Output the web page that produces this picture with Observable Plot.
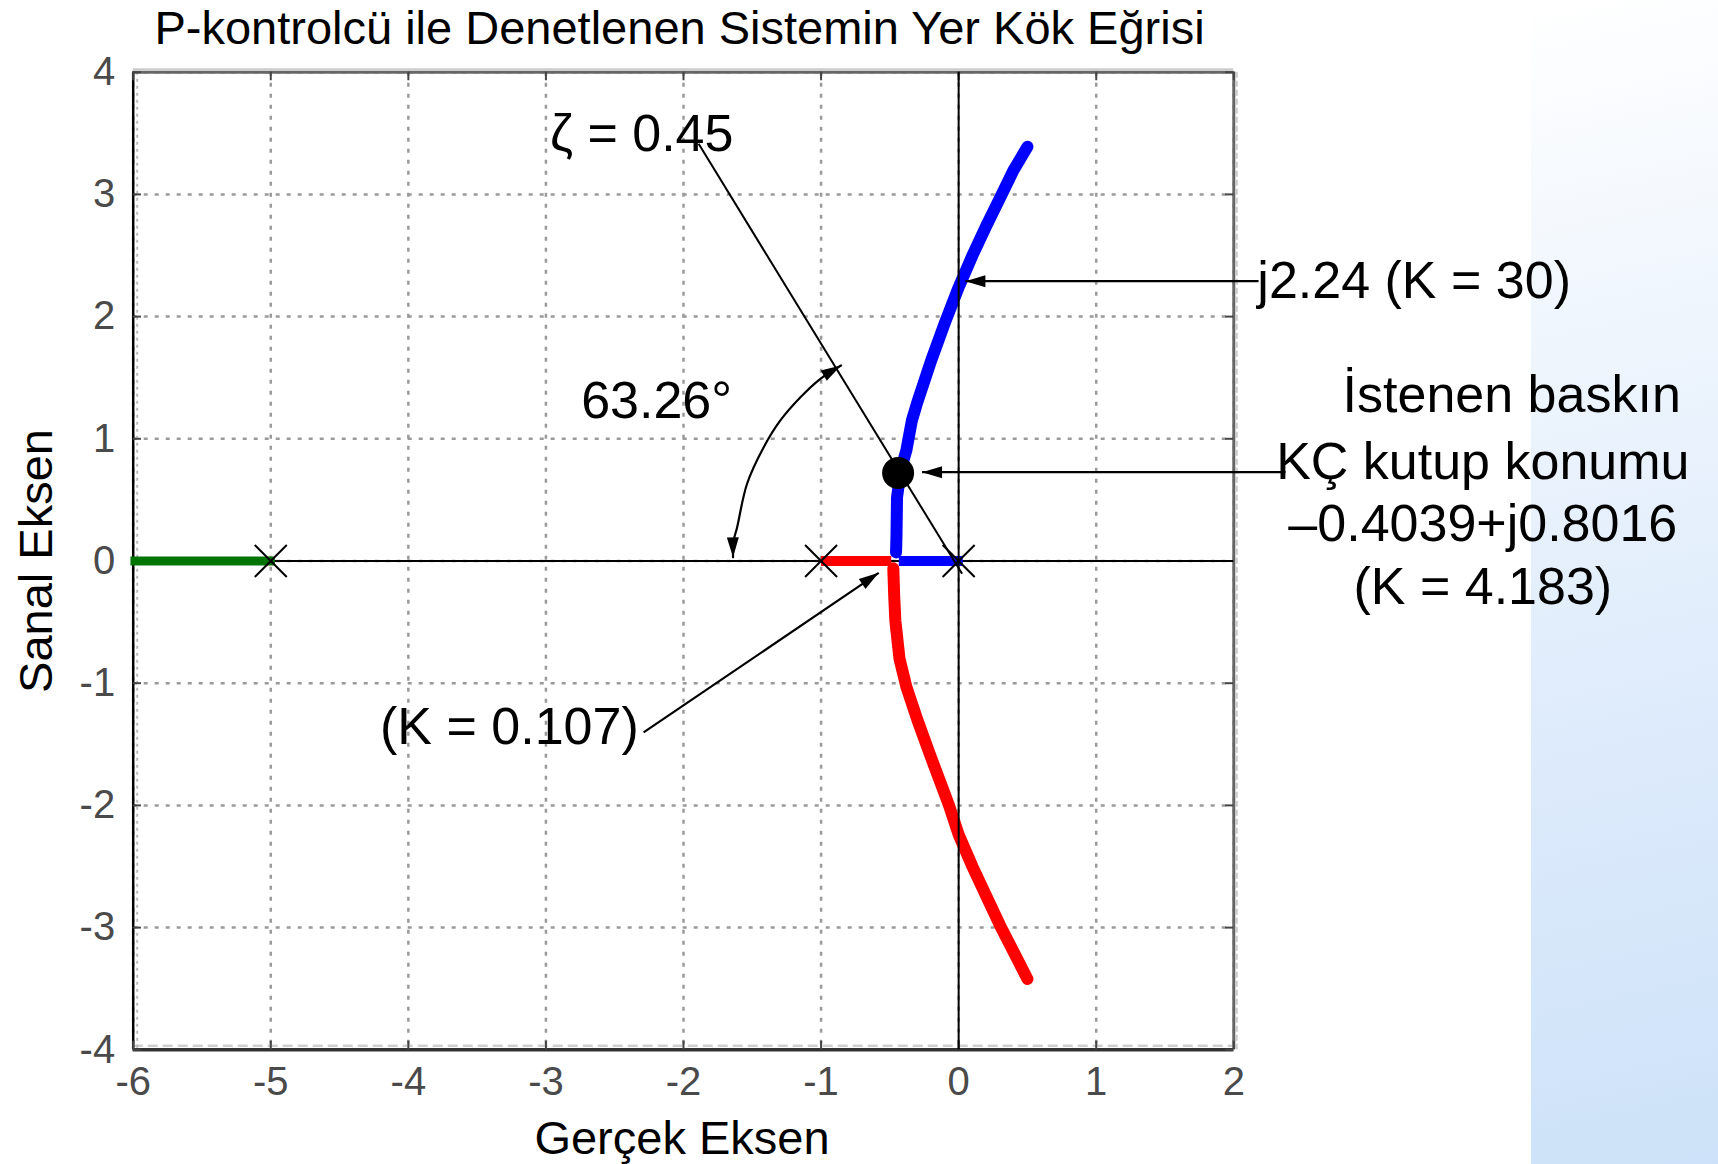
<!DOCTYPE html>
<html>
<head>
<meta charset="utf-8">
<script src="https://cdn.jsdelivr.net/npm/d3@7"></script>
<script src="https://cdn.jsdelivr.net/npm/@observablehq/plot@0.6"></script>
<style>
html, body { margin: 0; padding: 0; background: #ffffff; }
#wrap { position: relative; width: 1718px; height: 1164px; overflow: hidden; }
#strip { position: absolute; left: 1531px; top: 0; width: 187px; height: 1164px;
  background: linear-gradient(168deg, #ffffff 0%, #eef5fd 30%, #dceafb 65%, #cde2f8 100%); }
#chart { position: absolute; left: 0; top: 0; }
</style>
</head>
<body>
<div id="wrap"><div id="strip"></div><div id="chart"></div></div>
<script>
// ---- Tick values and labels ----
const xTicks = [-6, -5, -4, -3, -2, -1, 0, 1, 2];
const xTickLabels = ["-6", "-5", "-4", "-3", "-2", "-1", "0", "1", "2"];
const yTicks = [-4, -3, -2, -1, 0, 1, 2, 3, 4];
const yTickLabels = ["-4", "-3", "-2", "-1", "0", "1", "2", "3", "4"];

// ---- Texts ----
const titleText = "P-kontrolcü ile Denetlenen Sistemin Yer Kök Eğrisi";
const xLabelText = "Gerçek Eksen";
const yLabelText = "Sanal Eksen";

// ---- Open-loop poles (x markers) ----
const poleRe = [-5, -1, 0];
const poleIm = [0, 0, 0];

// ---- Root locus branches ----
const greenRe = [-6.02, -4.97];
const greenIm = [0, 0];

const redAxisRe = [-1.0, -0.49];
const redAxisIm = [0, 0];
const blueAxisRe = [-0.435, 0.03];
const blueAxisIm = [0, 0];

const blueRe = [-0.455, -0.452, -0.448, -0.42, -0.38, -0.34, -0.3, -0.2, -0.1, 0, 0.1, 0.2, 0.3, 0.4, 0.5];
const blueIm = [0.07, 0.2, 0.52, 0.75, 0.905, 1.15, 1.3, 1.64, 1.95, 2.24, 2.5, 2.74, 2.97, 3.2, 3.39];

const redRe = [-0.475, -0.468, -0.46, -0.43, -0.38, -0.3, -0.21, -0.07, 0, 0.1, 0.2, 0.3, 0.4, 0.5];
const redIm = [-0.06, -0.3, -0.49, -0.8, -1.03, -1.3, -1.58, -2.0, -2.24, -2.5, -2.74, -2.98, -3.2, -3.42];

// ---- Desired dominant closed-loop pole (as drawn) ----
const desiredRe = [-0.44];
const desiredIm = [0.72];

// ---- Annotation geometry (data units) ----
const zetaLineRe = [-1.89, 0.025];
const zetaLineIm = [3.414, -0.105];

const arcRe = [-1.64, -1.635, -1.61, -1.538, -1.417, -1.296, -1.15, -1.005, -0.855];
const arcIm = [0.03, 0.168, 0.277, 0.632, 0.931, 1.15, 1.34, 1.491, 1.60];

const arrowFromRe = [2.18, 2.376, -2.29];
const arrowFromIm = [2.29, 0.727, -1.403];
const arrowToRe = [0.049, -0.266, -0.581];
const arrowToIm = [2.29, 0.727, -0.097];

// ---- Annotation texts and anchor points (data units) ----
const zetaText = ["ζ = 0.45"];          const zetaAt = [[-1.637, 3.359]];
const leftTexts = ["j2.24 (K = 30)", "63.26°", "(K = 0.107)"];
const leftAt = [[2.171, 2.156], [-2.744, 1.174], [-4.206, -1.496]];
const blockTexts = ["İstenen baskın", "KÇ kutup konumu", "–0.4039+j0.8016", "(K = 4.183)"];
const blockAt = [[4.02, 1.218], [3.81, 0.673], [3.81, 0.162], [3.81, -0.350]];

// ---- Build tables ----
const pts = (re, im) => re.map((r, i) => ({re: r, im: im[i]}));
const poles = pts(poleRe, poleIm);
const green = pts(greenRe, greenIm);
const redAxis = pts(redAxisRe, redAxisIm);
const blueAxis = pts(blueAxisRe, blueAxisIm);
const blue = pts(blueRe, blueIm);
const red = pts(redRe, redIm);
const desired = pts(desiredRe, desiredIm);
const arc = pts(arcRe, arcIm);
const arrows = arrowFromRe.map((r, i) => ({x1: r, y1: arrowFromIm[i], x2: arrowToRe[i], y2: arrowToIm[i]}));
const zeta = [{x1: zetaLineRe[0], y1: zetaLineIm[0], x2: zetaLineRe[1], y2: zetaLineIm[1]}];
const toLabels = (texts, at) => texts.map((t, i) => ({text: t, re: at[i][0], im: at[i][1]}));

const FONT = "'Liberation Sans', Arial, Helvetica, sans-serif";
const annoSize = 52;

const plot = Plot.plot({
  width: 1718,
  height: 1164,
  marginLeft: 132.7,
  marginRight: 484.7,
  marginTop: 71.7,
  marginBottom: 114.7,
  x: {domain: [-6, 2], label: null},
  y: {domain: [-4, 4], label: null},
  style: {fontFamily: FONT, background: "transparent", overflow: "visible", color: "black"},
  marks: [
    // grid
    Plot.gridX(xTicks, {stroke: "#9a9a9a", strokeOpacity: 1, strokeWidth: 2.5, strokeDasharray: "4 7"}),
    Plot.gridY(yTicks, {stroke: "#9a9a9a", strokeOpacity: 1, strokeWidth: 2.5, strokeDasharray: "4 7"}),
    // frame
    Plot.ruleY([4], {stroke: "#cccccc", strokeWidth: 2, dy: -3}),
    Plot.ruleY([-4], {stroke: "#cfcfcf", strokeWidth: 2.5, dy: -4, strokeDasharray: "10 5"}),
    Plot.ruleX([-6], {stroke: "#bbbbbb", strokeWidth: 2, dx: 4, strokeDasharray: "3 4"}),
    Plot.ruleX([2], {stroke: "#cccccc", strokeWidth: 2, dx: 3, strokeDasharray: "6 3"}),
    Plot.ruleX([-6], {stroke: "#000000", strokeWidth: 2.5}),
    Plot.ruleX([2], {stroke: "#666666", strokeWidth: 3}),
    Plot.ruleY([4], {stroke: "#666666", strokeWidth: 3}),
    Plot.ruleY([-4], {stroke: "#333333", strokeWidth: 3.5}),
    // inward ticks
    Plot.ruleX(xTicks, {y1: -4, y2: -3.93, stroke: "#444", strokeWidth: 2}),
    Plot.ruleX(xTicks, {y1: 4, y2: 3.93, stroke: "#444", strokeWidth: 2}),
    Plot.ruleY(yTicks, {x1: -6, x2: -5.94, stroke: "#444", strokeWidth: 2}),
    Plot.ruleY(yTicks, {x1: 2, x2: 1.94, stroke: "#444", strokeWidth: 2}),
    // axes tick labels
    Plot.axisX(xTicks, {anchor: "bottom", tickSize: 0, tickPadding: 17, fontSize: 40, color: "#4a4a4a",
      tickFormat: d => xTickLabels[xTicks.indexOf(d)], label: null}),
    Plot.axisY(yTicks, {anchor: "left", tickSize: 0, tickPadding: 18, fontSize: 40, color: "#4a4a4a",
      tickFormat: d => yTickLabels[yTicks.indexOf(d)], label: null}),
    // real axis line
    Plot.ruleY([0], {x1: -5, x2: 2, stroke: "black", strokeWidth: 2}),
    // locus branches
    Plot.line(green, {x: "re", y: "im", stroke: "#007400", strokeWidth: 9, strokeLinecap: "butt"}),
    Plot.line(redAxis, {x: "re", y: "im", stroke: "#ff0000", strokeWidth: 10, strokeLinecap: "butt"}),
    Plot.line(blueAxis, {x: "re", y: "im", stroke: "#0000ff", strokeWidth: 10, strokeLinecap: "butt"}),
    Plot.line(blue, {x: "re", y: "im", stroke: "#0000ff", strokeWidth: 12, strokeLinecap: "round", strokeLinejoin: "round"}),
    Plot.line(red, {x: "re", y: "im", stroke: "#ff0000", strokeWidth: 12, strokeLinecap: "round", strokeLinejoin: "round"}),
    // imaginary axis line
    Plot.ruleX([0], {stroke: "black", strokeWidth: 2}),
    // open-loop poles
    Plot.dot(poles, {x: "re", y: "im", symbol: "times", r: 14.6, stroke: "black", strokeWidth: 2, fill: "none"}),
    // desired pole
    Plot.dot(desired, {x: "re", y: "im", r: 16, fill: "black", stroke: "none"}),
    // zeta line
    Plot.link(zeta, {x1: "x1", y1: "y1", x2: "x2", y2: "y2", stroke: "black", strokeWidth: 2}),
    // arrows
    Plot.link(arrows, {x1: "x1", y1: "y1", x2: "x2", y2: "y2", stroke: "black", strokeWidth: 2.2, markerEnd: "arrow"}),
    Plot.line(arc, {x: "re", y: "im", curve: "catmull-rom", stroke: "black", strokeWidth: 2.2, markerStart: "arrow", markerEnd: "arrow"}),
    // annotation texts
    Plot.text(toLabels(zetaText, zetaAt), {x: "re", y: "im", text: "text", textAnchor: "end", lineAnchor: "bottom", fontSize: annoSize, fill: "black"}),
    Plot.text(toLabels(leftTexts, leftAt), {x: "re", y: "im", text: "text", textAnchor: "start", lineAnchor: "bottom", fontSize: annoSize, fill: "black"}),
    Plot.text(toLabels(blockTexts, blockAt), {x: "re", y: "im", text: "text", textAnchor: "middle", lineAnchor: "bottom", fontSize: annoSize, fill: "black"}),
    // title and axis labels
    Plot.text([titleText], {frameAnchor: "top", dx: -4, dy: -27.7, lineAnchor: "bottom", fontSize: 47, fill: "black"}),
    Plot.text([xLabelText], {frameAnchor: "bottom", dx: -1.5, dy: 103.7, lineAnchor: "bottom", fontSize: 47, fill: "black"}),
    Plot.text([yLabelText], {frameAnchor: "left", dx: -81.7, rotate: -90, textAnchor: "middle", lineAnchor: "bottom", fontSize: 47, fill: "black"})
  ]
});

// Make arrowheads filled triangles like the reference
const NS = "http://www.w3.org/2000/svg";
plot.querySelectorAll("marker").forEach(m => {
  m.setAttribute("viewBox", "-21 -7 22 14");
  m.setAttribute("markerUnits", "userSpaceOnUse");
  m.setAttribute("markerWidth", "22");
  m.setAttribute("markerHeight", "14");
  m.setAttribute("refX", "0");
  m.setAttribute("refY", "0");
  m.setAttribute("orient", "auto-start-reverse");
  m.setAttribute("fill", "black");
  m.setAttribute("stroke", "none");
  while (m.firstChild) m.removeChild(m.firstChild);
  const p = document.createElementNS(NS, "path");
  p.setAttribute("d", "M-20,-6L0,0L-20,6Z");
  m.appendChild(p);
});

document.getElementById("chart").appendChild(plot);
</script>
</body>
</html>
